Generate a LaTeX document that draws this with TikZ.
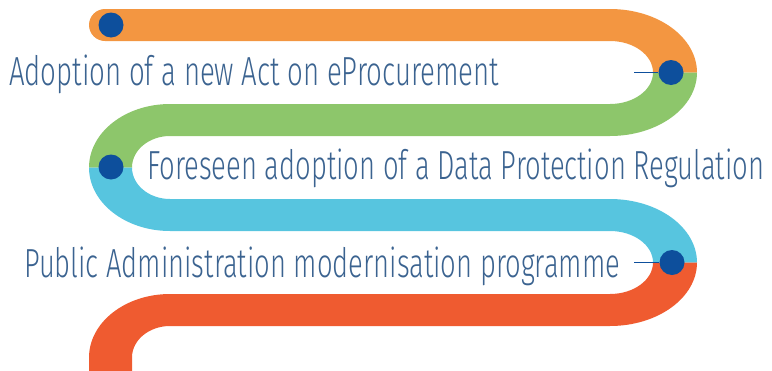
\documentclass[tikz,border=0pt]{standalone}
\usepackage{fontspec}
\setmainfont{Fira Sans}[UprightFont={* Light}]
\usepackage{graphicx}
\definecolor{corange}{HTML}{F39641}
\definecolor{cgreen}{HTML}{8DC66B}
\definecolor{cblue}{HTML}{57C5DF}
\definecolor{cred}{HTML}{EF5B30}
\definecolor{dotblue}{HTML}{0D4F9C}
\definecolor{txtblue}{HTML}{3B6390}
\tikzset{
  band/.style={fill=#1, draw=none},
  dotc/.style={circle, fill=dotblue, draw=none, minimum size=25pt, inner sep=0pt},
  lbl/.style={anchor=base west, inner sep=0pt, text=txtblue, font=\fontsize{40.6}{44}\selectfont},
  conn/.style={draw=dotblue, line width=1.8pt}
}
\begin{document}
\begin{tikzpicture}[x=1pt, y=-1pt]
\useasboundingbox (0,0) rectangle (772,370);
\clip (0,0) rectangle (772,370);
% orange
\fill[band=corange] (105,9) -- (610,9) arc[start angle=-90, end angle=0, x radius=87, y radius=63.5]
  -- (653,72.5) arc[start angle=0, end angle=-90, x radius=43, y radius=31.5]
  -- (105,41) arc[start angle=90, end angle=270, radius=16] -- cycle;
% green
\fill[band=cgreen] (697,72.5) arc[start angle=0, end angle=90, x radius=87, y radius=63.5]
  -- (170,136) arc[start angle=-90, end angle=-180, x radius=38, y radius=31.5]
  -- (89,167.5) arc[start angle=-180, end angle=-90, x radius=81, y radius=63.5]
  -- (610,104) arc[start angle=90, end angle=0, x radius=43, y radius=31.5] -- cycle;
% blue
\fill[band=cblue] (89,167.5) arc[start angle=180, end angle=90, x radius=81, y radius=63.5]
  -- (610,231) arc[start angle=-90, end angle=0, x radius=43, y radius=31.5]
  -- (697,262.5) arc[start angle=0, end angle=-90, x radius=87, y radius=63.5]
  -- (170,199) arc[start angle=90, end angle=180, x radius=38, y radius=31.5] -- cycle;
% red
\fill[band=cred] (697,262.5) arc[start angle=0, end angle=90, x radius=87, y radius=63.5]
  -- (170,326) arc[start angle=-90, end angle=-180, x radius=38, y radius=31.5]
  -- (132,380) -- (89,380) -- (89,357.5) arc[start angle=-180, end angle=-90, x radius=81, y radius=63.5]
  -- (610,294) arc[start angle=90, end angle=0, x radius=43, y radius=31.5] -- cycle;
% dots
\node[dotc] (d0) at (111,25) {};
\node[dotc] (d1) at (671,72.5) {};
\node[dotc] (d2) at (111,167) {};
\node[dotc] (d3) at (672,262.5) {};
\coordinate (c1) at (634,72.5);
\coordinate (c3) at (634,262.5);
\draw[conn] (c1) -- (d1);
\draw[conn] (c3) -- (d3);
% labels
\node[lbl] (t1) at (9,85) {\resizebox{490pt}{\height}{Adoption of a new Act on eProcurement}};
\node[lbl] (t2) at (147,179) {\resizebox{617pt}{\height}{Foreseen adoption of a Data Protection Regulation}};
\node[lbl] (t3) at (24,277) {\resizebox{596pt}{\height}{Public Administration modernisation programme}};
\end{tikzpicture}
\end{document}
